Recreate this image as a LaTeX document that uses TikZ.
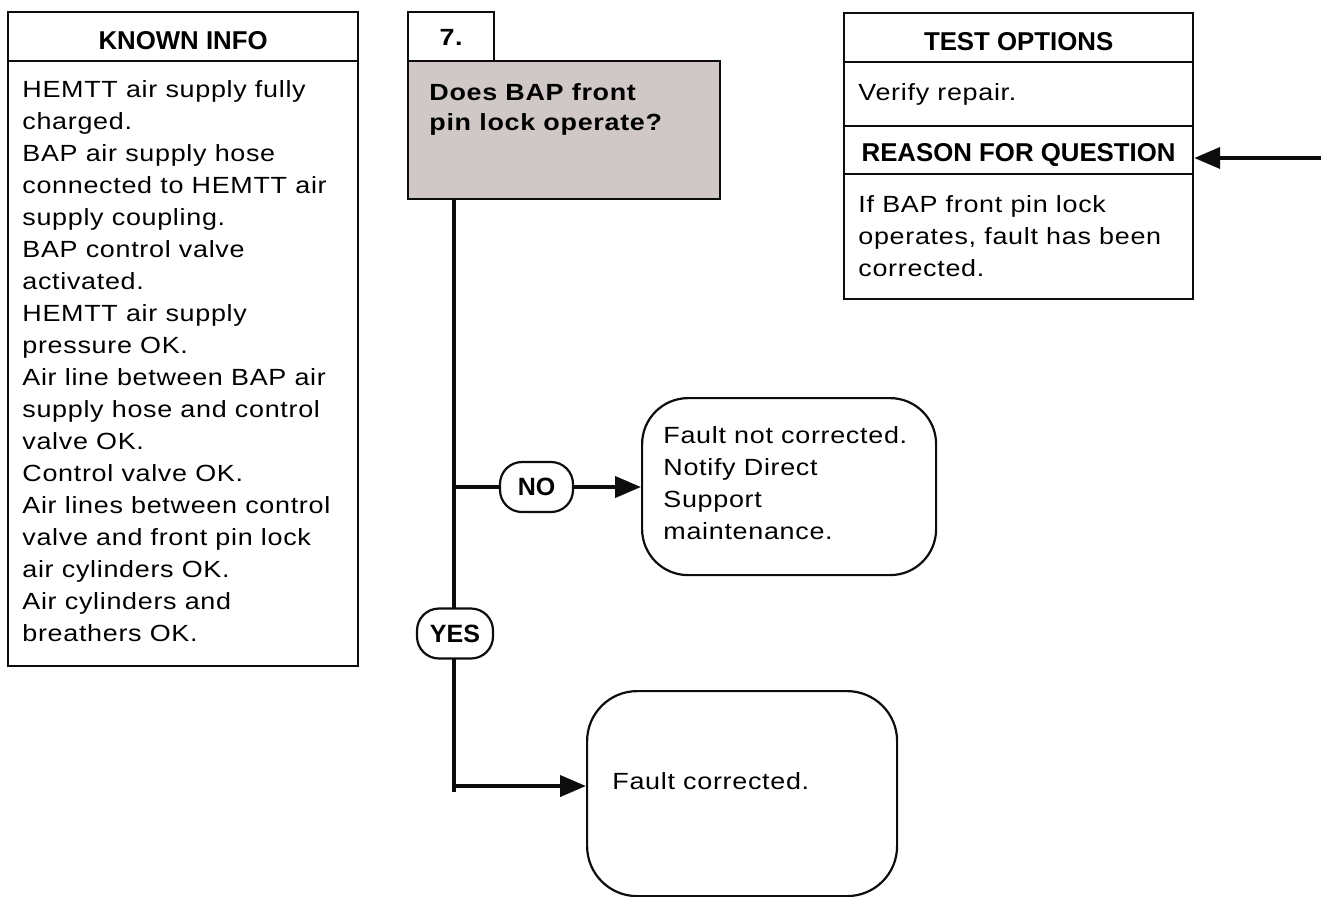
\documentclass[tikz,border=0pt]{standalone}
\usepackage{fontspec}
\setmainfont{Liberation Sans}[FakeStretch=1.15, LetterSpace=3]
\newfontfamily\tightsans{Liberation Sans}
\usetikzlibrary{arrows.meta, calc}
\definecolor{ink}{gray}{0.05}
\definecolor{askfill}{RGB}{207,200,199}
\newcommand\bodysize{\fontsize{11.7}{16}\selectfont}
\newcommand\asksize{\bfseries\fontsize{11.7}{15}\selectfont}
\newcommand\headsize{\tightsans\bfseries\fontsize{12.9}{15}\selectfont}
\newcommand\pillsize{\tightsans\bfseries\fontsize{12.5}{14}\selectfont}

\begin{document}
\begin{tikzpicture}[
  x=0.5pt, y=-0.5pt,
  frame/.style={draw=ink, line width=1.1pt, inner sep=0pt, anchor=north west},
  head/.style={frame, font=\headsize, text height=12.5pt, text depth=0pt},
  txt/.style={font=\bodysize, align=left, anchor=north west, inner sep=0pt},
  endbox/.style={frame, rounded corners=23pt},
  pill/.style={draw=ink, line width=1.1pt, fill=white, rounded corners=11pt,
               minimum height=25pt, inner sep=0pt, font=\pillsize},
  link/.style={draw=ink, line width=2pt},
  go/.style={link, -{Triangle[length=13pt, width=10.5pt]}},
]
\useasboundingbox (0,0) rectangle (1321,896);

\node[head, minimum width=175pt, minimum height=24.5pt] (infohead) at (7,11) {KNOWN INFO};
\node[frame, minimum width=175pt, minimum height=302.5pt] (infobody) at (7,60) {};
\node[txt] (infotext) at (22,80)
  {HEMTT air supply fully\\charged.\\BAP air supply hose\\connected to HEMTT air\\
   supply coupling.\\BAP control valve\\activated.\\HEMTT air supply\\pressure OK.\\
   Air line between BAP air\\supply hose and control\\valve OK.\\Control valve OK.\\
   Air lines between control\\valve and front pin lock\\air cylinders OK.\\
   Air cylinders and\\breathers OK.};

\node[head, font=\asksize, text height=8.5pt, minimum width=43pt, minimum height=24.5pt] (stepno) at (407,11) {7.};
\node[frame, fill=askfill, minimum width=156pt, minimum height=69pt] (ask) at (407,60) {};
\node[txt, font=\asksize] (asktext) at (429,83) {Does BAP front\\pin lock operate?};

\node[head, minimum width=174.5pt, minimum height=24.5pt] (testhead) at (843,12) {TEST OPTIONS};
\node[frame, minimum width=174.5pt, minimum height=32pt] (testbody) at (843,61) {};
\node[txt] (testtext) at (858,83) {Verify repair.};
\node[head, text height=11pt, minimum width=174.5pt, minimum height=24pt] (whyhead) at (843,125) {REASON FOR QUESTION};
\node[frame, minimum width=174.5pt, minimum height=62.5pt] (whybody) at (843,173) {};
\node[txt] (whytext) at (858,195) {If BAP front pin lock\\operates, fault has been\\corrected.};

\node[endbox, minimum width=147pt, minimum height=88.5pt] (failbox) at (641,397) {};
\node[txt] (failtext) at (663,426) {Fault not corrected.\\Notify Direct\\Support\\maintenance.};
\node[endbox, rounded corners=25pt, minimum width=155pt, minimum height=102.5pt] (okbox) at (586,690) {};
\node[txt] (oktext) at (612,772) {Fault corrected.};

\coordinate (trunkend) at (454,792);
\coordinate (trunktop) at (ask.south west -| trunkend);
\coordinate (nofork) at (454,487);
\coordinate (yesfork) at (454,786);
\coordinate (whyin) at (1321,158);

\draw[link] (trunktop) -- (trunkend);
\node[pill, minimum width=36.5pt] (nopill) at (536.5,487) {NO};
\node[pill, minimum width=38pt] (yespill) at (455,633.5) {YES};
\draw[link] (nofork) -- (nopill.west);
\draw[go] (nopill.east) -- (nopill.east -| failbox.west);
\draw[go] (yesfork) -- (yesfork -| okbox.west);
\draw[go] (whyin) -- (whyin -| whyhead.east);
\end{tikzpicture}
\end{document}
